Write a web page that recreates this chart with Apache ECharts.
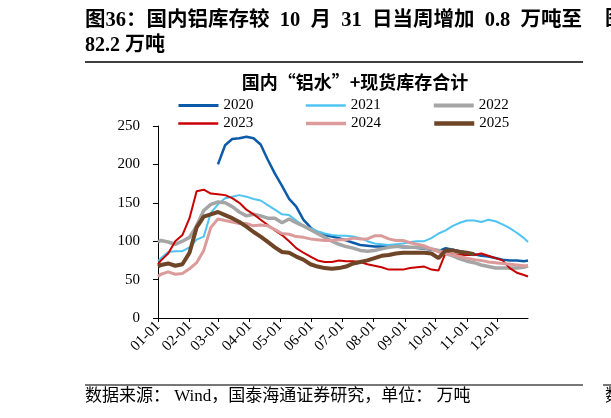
<!DOCTYPE html>
<html><head><meta charset="utf-8">
<script src="https://cdn.jsdelivr.net/npm/echarts@6/dist/echarts.min.js"></script>
<style>html,body{margin:0;padding:0;background:#fff}#c{width:611px;height:418px}</style>
</head><body><div id="c"></div>
<script>
// sample dates (month-day)
const sampleDates = ['01-01','01-04','01-11','01-18','01-25','02-01','02-08','02-15','02-22','03-01',
 '03-08','03-15','03-22','03-29','04-05','04-12','04-19','04-26','05-03','05-10',
 '05-17','05-24','05-31','06-07','06-14','06-21','06-28','07-05','07-12','07-19',
 '07-26','08-02','08-09','08-16','08-23','08-30','09-06','09-13','09-20','09-27',
 '10-04','10-11','10-18','10-25','11-01','11-08','11-15','11-22','11-29','12-06',
 '12-13','12-20','12-27','12-31'];
const years = ['2020','2021','2022','2023','2024','2025'];
const v2020 = [null,null,null,null,null,null,null,null,null,200,
 225,233,234,236,234,226,206,188,172,155,
 145,128,118,110,108,106,104,101,98,95,
 94,93,93,93,93,92,92,91,90,89,
 87,91,89,87,85,83,81,80,78,76,
 75,75,74,75];
const v2021 = [74,78,86,87,87,92,102,106,137,148,
 156,158,160,158,155,153,147,141,135,134,
 127,120,117,113,110,108,107,107,106,104,
 100,97,96,95,96,97,99,100,100,104,
 110,114,120,124,127,127,125,128,126,122,
 117,111,104,99];
const v2022 = [99,101,99,96,100,105,120,140,148,151,
 150,145,138,133,135,133,130,130,124,129,
 124,120,115,110,105,100,96,93,91,88,
 87,88,90,92,93,93,92,92,91,90,
 88,84,81,77,74,72,69,67,65,65,
 65,65,66,68];
const v2023 = [70,75,84,100,108,130,165,167,162,161,
 160,156,150,141,135,128,121,114,108,100,
 91,85,80,75,73,73,75,74,74,73,
 70,68,66,63,63,63,65,66,67,63,
 62,85,83,82,82,82,84,81,78,75,
 65,59,56,54];
const v2024 = [54,57,60,57,58,64,72,88,118,129,
 127,125,123,123,120,121,120,115,110,109,
 106,105,103,102,101,101,102,102,104,103,
 103,107,107,103,101,101,98,96,94,90,
 86,84,82,80,78,76,75,73,72,71,
 70,69,68,68];
const v2025 = [67,69,71,68,70,85,118,132,135,138,
 134,130,125,119,112,106,99,92,86,85,
 80,76,70,67,65,64,65,67,71,73,
 75,78,81,82,84,85,85,85,85,84,
 78,88,88,86,85,83,null,null,null,null,
 null,null,null,null];
const yTicks = [0,50,100,150,200,250];

const colors = ['#0b5ba8','#4fc4f2','#a5a5a5','#c80000','#dc9b9b','#6e4526'];
const widths = [2.5,2,3.5,2,3,4];
const allVals = [v2020,v2021,v2022,v2023,v2024,v2025];

// daily categories for a 365-day year
const monthDays = [31,28,31,30,31,30,31,31,30,31,30,31];
const days = [];
monthDays.forEach((n,m)=>{for(let d=1;d<=n;d++){days.push(String(m+1).padStart(2,'0')+'-'+String(d).padStart(2,'0'));}});
const isMonthStart = (i,v)=>String(v).endsWith('-01');

const serif = "'Liberation Serif','Times New Roman','Noto Sans CJK SC',serif";
const cjk = "'Noto Sans CJK SC','Liberation Serif',sans-serif";

const series = years.map((y,k)=>({
  name:y, type:'line', symbol:'none', showSymbol:false, smooth:false,
  lineStyle:{color:colors[k], width:widths[k]}, itemStyle:{color:colors[k]},
  data: sampleDates.map((d,i)=>[d, allVals[k][i]]).filter(p=>p[1]!==null),
  z: 2+k
}));

const legendItem = (k)=>({name:years[k], itemStyle:{opacity:0}, lineStyle:{width:widths[k]+0.5, color:colors[k], opacity:1}});
const legendBase = {left:177,padding:0,itemWidth:40,itemHeight:14,itemGap:51,
  itemStyle:{opacity:0},
  textStyle:{fontFamily:serif,fontSize:15,color:'#000'}};
const chart = echarts.init(document.getElementById('c'));
chart.setOption({
  animation:false,
  backgroundColor:'#fff',
  color:colors,
  grid:{left:158,right:83,top:126,bottom:100,containLabel:false,outerBoundsMode:'none'},
  legend:[
    Object.assign({top:98,data:[0,1,2].map(legendItem)},legendBase),
    Object.assign({top:116,data:[3,4,5].map(legendItem)},legendBase)
  ],
  xAxis:{type:'category',data:days,boundaryGap:false,
    axisLine:{lineStyle:{color:'#000',width:1}},
    axisTick:{show:true,interval:isMonthStart,length:4,lineStyle:{color:'#000'}},
    axisLabel:{interval:isMonthStart,rotate:45,fontFamily:serif,fontSize:15,color:'#000',margin:6},
    splitLine:{show:false}},
  yAxis:{type:'value',min:yTicks[0],max:yTicks[yTicks.length-1],interval:50,
    axisLine:{show:true,lineStyle:{color:'#000',width:1}},
    axisTick:{show:true,length:5,lineStyle:{color:'#000'}},
    axisLabel:{fontFamily:serif,fontSize:15,color:'#000',margin:18},
    splitLine:{show:false}},
  series:series,
  graphic:[
    {type:'text',left:85,top:10,style:{text:'图36：国内铝库存较  10  月  31  日当周增加  0.8  万吨至',font:"bold 20.5px "+serif,fill:'#000'}},
    {type:'text',left:85,top:36,style:{text:'82.2 万吨',font:"bold 20px "+serif,fill:'#000'}},
    {type:'line',shape:{x1:85,y1:62,x2:583,y2:62},style:{stroke:'#000',lineWidth:1.5}},
    {type:'text',x:355,y:82,style:{text:'国内“铝水”+现货库存合计',font:"bold 18px "+cjk,fill:'#000',align:'center',verticalAlign:'middle'}},
    {type:'line',shape:{x1:85,y1:385,x2:583,y2:385},style:{stroke:'#777',lineWidth:2}},
    {type:'text',left:85,top:388,style:{text:'数据来源： Wind，国泰海通证券研究，单位： 万吨',font:"17px "+serif,fill:'#000'}},
    {type:'text',x:605,y:10,style:{text:'图',font:"bold 20px "+serif,fill:'#000'}},
    {type:'line',shape:{x1:603,y1:385,x2:611,y2:385},style:{stroke:'#777',lineWidth:2}},
    {type:'text',x:605,y:388,style:{text:'数',font:"17px "+serif,fill:'#000'}}
  ]
});
</script></body></html>
